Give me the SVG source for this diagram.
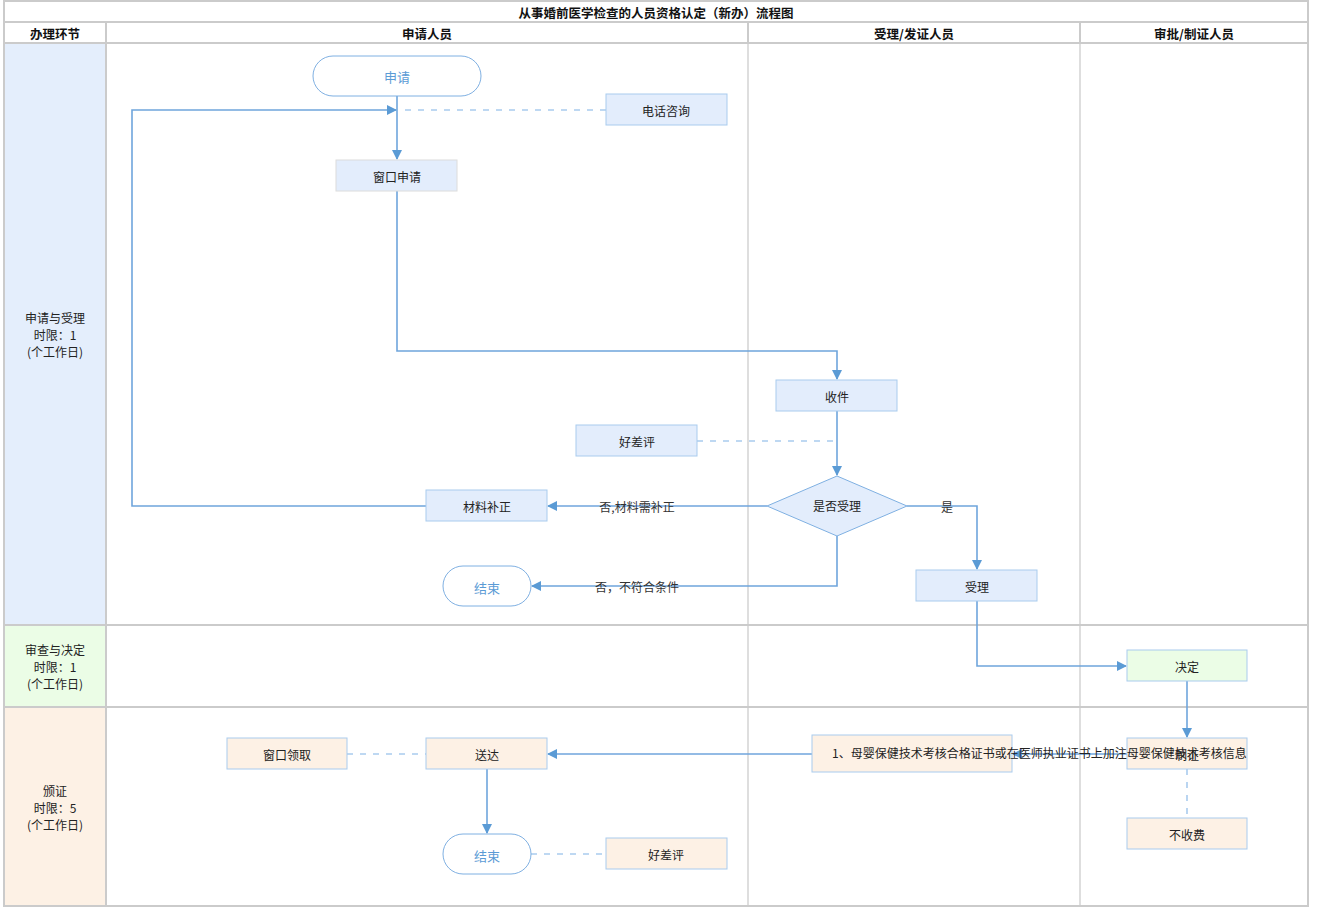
<svg xmlns="http://www.w3.org/2000/svg" width="1329" height="907" viewBox="0 0 1329 907">
<style>
text{font-family:"Noto Sans CJK SC","Liberation Sans",sans-serif;font-size:12px;fill:#222;text-anchor:middle;dominant-baseline:central}
.hd{font-weight:bold;font-size:12.5px;fill:#111}
.frame{fill:none;stroke:#cbcbcb;stroke-width:2}
.inner{stroke:#dedede;stroke-width:2}
.box{fill:#e3edfc;stroke:#a9cbee;stroke-width:1}
.boxg{fill:#ebfde6;stroke:#a9cbee;stroke-width:1}
.boxo{fill:#fdf1e5;stroke:#a9cbee;stroke-width:1}
.term{fill:#fff;stroke:#7fb0e2;stroke-width:1}
.tt{fill:#5b9bd5;font-size:13px}
.ln{fill:none;stroke:#6fa5dc;stroke-width:1.6}
.dash{fill:none;stroke:#a9cbee;stroke-width:1.6;stroke-dasharray:6 7}
.lbl{fill:#333}
</style>
<defs>
<marker id="ah" viewBox="0 0 10 10" refX="9" refY="5" markerWidth="10" markerHeight="10" markerUnits="userSpaceOnUse" orient="auto">
<path d="M0,0 L10,5 L0,10 z" fill="#5b9bd5"/>
</marker>
</defs>
<g id="background">
<rect x="4" y="43" width="102" height="582" fill="#e4eefc"/>
<rect x="4" y="625" width="102" height="82" fill="#ebfde6"/>
<rect x="4" y="707" width="102" height="199" fill="#fdf1e5"/>
<line x1="748" y1="43" x2="748" y2="906" class="inner"/>
<line x1="1080" y1="43" x2="1080" y2="906" class="inner"/>
<line x1="106" y1="22" x2="106" y2="906" class="frame"/>
<line x1="748" y1="22" x2="748" y2="43" class="frame"/>
<line x1="1080" y1="22" x2="1080" y2="43" class="frame"/>
<line x1="4" y1="22" x2="1308" y2="22" class="frame"/>
<line x1="4" y1="43" x2="1308" y2="43" class="frame"/>
<line x1="4" y1="625" x2="1308" y2="625" class="frame"/>
<line x1="4" y1="707" x2="1308" y2="707" class="frame"/>
<rect x="4" y="1" width="1304" height="905" class="frame"/>
<text x="656" y="12" class="hd">从事婚前医学检查的人员资格认定（新办）流程图</text>
<text x="55" y="33" class="hd">办理环节</text>
<text x="427" y="33" class="hd">申请人员</text>
<text x="914" y="33" class="hd">受理/发证人员</text>
<text x="1194" y="33" class="hd">审批/制证人员</text>
<text x="55" y="317">申请与受理</text>
<text x="55" y="334">时限：1</text>
<text x="55" y="351">(个工作日)</text>
<text x="55" y="649">审查与决定</text>
<text x="55" y="666">时限：1</text>
<text x="55" y="683">(个工作日)</text>
<text x="55" y="790">颁证</text>
<text x="55" y="807">时限：5</text>
<text x="55" y="824">(个工作日)</text>
</g>
<g id="connectors">
<path d="M397,96 V159" class="ln" marker-end="url(#ah)"/>
<path d="M426,506 H132 V110 H396" class="ln" marker-end="url(#ah)"/>
<path d="M606,110 H399" class="dash"/>
<path d="M397,191 V351 H837 V379" class="ln" marker-end="url(#ah)"/>
<path d="M697,441 H837" class="dash"/>
<path d="M837,411 V475" class="ln" marker-end="url(#ah)"/>
<path d="M767,506 H548" class="ln" marker-end="url(#ah)"/>
<text x="637" y="506" class="lbl">否,材料需补正</text>
<path d="M837,536 V586 H532" class="ln" marker-end="url(#ah)"/>
<text x="637" y="586" class="lbl">否，不符合条件</text>
<path d="M907,506 H977 V569" class="ln" marker-end="url(#ah)"/>
<text x="947" y="506" class="lbl">是</text>
<path d="M977,601 V666 H1126" class="ln" marker-end="url(#ah)"/>
<path d="M1187,681 V737" class="ln" marker-end="url(#ah)"/>
<path d="M1127,754 H1013" class="ln" marker-end="url(#ah)"/>
<path d="M812,754 H548" class="ln" marker-end="url(#ah)"/>
<path d="M347,754 H426" class="dash"/>
<path d="M487,769 V833" class="ln" marker-end="url(#ah)"/>
<path d="M531,854 H606" class="dash"/>
<path d="M1187,769 V818" class="dash"/>
</g>
<g id="n-apply"><rect x="313" y="56" width="168" height="40" rx="20" class="term"/><text x="397" y="76" class="tt">申请</text></g>
<g id="n-phone"><rect x="606" y="94" width="121" height="31" class="box"/><text x="666" y="110">电话咨询</text></g>
<g id="n-window"><rect x="336" y="160" width="121" height="31" class="box" style="stroke:#dcdcdc"/><text x="397" y="176">窗口申请</text></g>
<g id="n-receive"><rect x="776" y="380" width="121" height="31" class="box"/><text x="837" y="396">收件</text></g>
<g id="n-eval1"><rect x="576" y="425" width="121" height="31" class="box"/><text x="637" y="441">好差评</text></g>
<g id="n-decide-accept"><path d="M837,476 L907,506 L837,536 L767,506 Z" class="box" style="stroke:#7fb0e2"/><text x="837" y="505">是否受理</text></g>
<g id="n-supplement"><rect x="426" y="490" width="121" height="31" class="box"/><text x="487" y="506">材料补正</text></g>
<g id="n-end1"><rect x="443" y="566" width="88" height="40" rx="20" class="term"/><text x="487" y="587" class="tt">结束</text></g>
<g id="n-accept"><rect x="916" y="570" width="121" height="31" class="box"/><text x="977" y="586">受理</text></g>
<g id="n-decision"><rect x="1127" y="650" width="120" height="31" class="boxg"/><text x="1187" y="666">决定</text></g>
<g id="n-make"><rect x="1127" y="738" width="120" height="31" class="boxo"/><text x="1187" y="754">制证</text></g>
<g id="n-cert"><rect x="812" y="735" width="200" height="37" class="boxo"/><text x="832" y="752" style="text-anchor:start">1、母婴保健技术考核合格证书或在医师执业证书上加注母婴保健技术考核信息</text></g>
<g id="n-deliver"><rect x="426" y="738" width="121" height="31" class="boxo"/><text x="487" y="754">送达</text></g>
<g id="n-pickup"><rect x="227" y="738" width="120" height="31" class="boxo"/><text x="287" y="754">窗口领取</text></g>
<g id="n-end2"><rect x="443" y="834" width="88" height="40" rx="20" class="term"/><text x="487" y="855" class="tt">结束</text></g>
<g id="n-eval2"><rect x="606" y="838" width="121" height="31" class="boxo"/><text x="666" y="854">好差评</text></g>
<g id="n-nofee"><rect x="1127" y="818" width="120" height="31" class="boxo"/><text x="1187" y="834">不收费</text></g>
</svg>
